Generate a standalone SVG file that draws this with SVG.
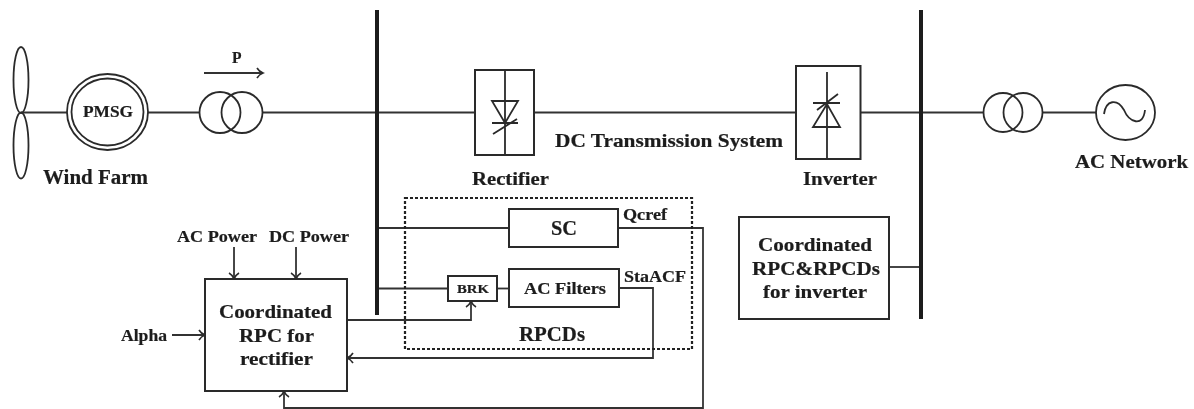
<svg xmlns="http://www.w3.org/2000/svg" width="1194" height="409" viewBox="0 0 1194 409">
<style>
.s{fill:none;stroke:#2b2b2b;stroke-width:1.8}
.w{fill:#fff;stroke:#2b2b2b;stroke-width:2}
.bus{fill:none;stroke:#1a1a1a;stroke-width:4}
.c{fill:none;stroke:#333;stroke-width:1.8}
.a{marker-end:url(#arr)}
text{font-family:"Liberation Serif","Times New Roman",serif;font-weight:700;fill:#1c1c1c;stroke:#1c1c1c;stroke-width:.2}
.t20{font-size:20px}.t19{font-size:19px}.t18{font-size:18.500px}.t16{font-size:16px}.t13{font-size:13.500px}
</style>
<defs>
<marker id="arr" markerUnits="userSpaceOnUse" markerWidth="12" markerHeight="12" refX="10" refY="6" orient="auto">
<path d="M4 1 Q6 4.5 10 6 Q6 7.5 4 11" fill="none" stroke="#2b2b2b" stroke-width="1.6"/>
</marker>
<filter id="soft" x="-2%" y="-2%" width="104%" height="104%"><feGaussianBlur stdDeviation="0.35"/></filter>
</defs>
<rect width="1194" height="409" fill="#fff"/>
<g filter="url(#soft)">
<g id="connectors">
<path class="c" d="M21 112.500H67"/>
<path class="c" d="M148 112.500H199"/>
<path class="c" d="M263 112.500H475"/>
<path class="c" d="M534 112.500H796"/>
<path class="c" d="M860 112.500H983"/>
<path class="c" d="M1042 112.500H1096"/>
<path class="c a" d="M204 73H263"/>
<path class="c" d="M377 228H509"/>
<path class="c" d="M377 288.500H448"/>
<path class="c" d="M497 288.500H509"/>
<path class="c" d="M889 267H921"/>
<path class="c a" d="M234 247V279"/>
<path class="c a" d="M296 247V279"/>
<path class="c a" d="M172 335H205"/>
<path class="c a" d="M347 320H471V301"/>
<path class="c a" d="M619 288H653V358H347"/>
<path class="c a" d="M618 228H703V408H284V391"/>
</g>
<g id="wind-turbine">
<ellipse class="s" cx="21" cy="80" rx="7.500" ry="33"/>
<ellipse class="s" cx="21" cy="145.500" rx="7.500" ry="33"/>
</g>
<g id="pmsg">
<ellipse class="s" cx="107.500" cy="112" rx="40.500" ry="38"/>
<ellipse class="s" cx="107.500" cy="112" rx="36" ry="33.500"/>
<text class="t16" x="83" y="117" textLength="50" lengthAdjust="spacingAndGlyphs">PMSG</text>
</g>
<g id="wind-farm-label"><text class="t20" x="43" y="184" textLength="105" lengthAdjust="spacingAndGlyphs">Wind Farm</text></g>
<g id="power-label"><text class="t16" x="232" y="63" textLength="9.500" lengthAdjust="spacingAndGlyphs">P</text></g>
<g id="transformer-1">
<circle class="s" cx="220" cy="112.500" r="20.500"/>
<circle class="s" cx="242" cy="112.500" r="20.500"/>
</g>
<g id="bus-1"><path class="bus" d="M377 10V315"/></g>
<g id="bus-2"><path class="bus" d="M921 10V319"/></g>
<g id="rectifier">
<rect class="w" x="475" y="70" width="59" height="85"/>
<path class="s" d="M505 70V155M492 101H518L505 123ZM492 123H518M493 134L517 119"/>
<text class="t18" x="472" y="185" textLength="77" lengthAdjust="spacingAndGlyphs">Rectifier</text>
</g>
<g id="dc-label"><text class="t18" x="555" y="147" textLength="228" lengthAdjust="spacingAndGlyphs">DC Transmission System</text></g>
<g id="inverter">
<rect class="w" x="796" y="66" width="64.500" height="93"/>
<path class="s" d="M827 72V159M813 127H840L827 104ZM813 103H840M817 110L838 94"/>
<text class="t18" x="803" y="185" textLength="74" lengthAdjust="spacingAndGlyphs">Inverter</text>
</g>
<g id="transformer-2">
<circle class="s" cx="1003" cy="112.500" r="19.500"/>
<circle class="s" cx="1023" cy="112.500" r="19.500"/>
</g>
<g id="ac-network">
<ellipse class="s" cx="1125.500" cy="112.500" rx="29.500" ry="27.500"/>
<path class="s" d="M1104 114C1106 100 1117 98 1124 110C1129 122 1143 128 1145 110"/>
<text class="t18" x="1075" y="168" textLength="113" lengthAdjust="spacingAndGlyphs">AC Network</text>
</g>
<g id="rpcds">
<rect x="405" y="198" width="287" height="151" fill="none" stroke="#222" stroke-width="2.200" stroke-dasharray="3 2"/>
<text class="t20" x="519" y="341" textLength="66" lengthAdjust="spacingAndGlyphs">RPCDs</text>
</g>
<g id="sc">
<rect class="w" x="509" y="209" width="109" height="38"/>
<text class="t20" x="551" y="235" textLength="26" lengthAdjust="spacingAndGlyphs">SC</text>
<text class="t16" x="623" y="220" textLength="44" lengthAdjust="spacingAndGlyphs">Qcref</text>
</g>
<g id="brk">
<rect class="w" x="448" y="276" width="49" height="25"/>
<text class="t13" x="457" y="293" textLength="32" lengthAdjust="spacingAndGlyphs">BRK</text>
</g>
<g id="ac-filters">
<rect class="w" x="509" y="269" width="110" height="38"/>
<text class="t16" x="524" y="294" textLength="82" lengthAdjust="spacingAndGlyphs">AC Filters</text>
<text class="t16" x="624" y="282" textLength="62" lengthAdjust="spacingAndGlyphs">StaACF</text>
</g>
<g id="rpc-rectifier">
<rect class="w" x="205" y="279" width="142" height="112"/>
<text class="t19" x="219" y="318" textLength="113" lengthAdjust="spacingAndGlyphs">Coordinated</text>
<text class="t19" x="239" y="342" textLength="75" lengthAdjust="spacingAndGlyphs">RPC for</text>
<text class="t19" x="240" y="365" textLength="73" lengthAdjust="spacingAndGlyphs">rectifier</text>
</g>
<g id="inputs">
<text class="t16" x="177" y="242" textLength="80" lengthAdjust="spacingAndGlyphs">AC Power</text>
<text class="t16" x="269" y="242" textLength="80" lengthAdjust="spacingAndGlyphs">DC Power</text>
<text class="t16" x="121" y="341" textLength="46" lengthAdjust="spacingAndGlyphs">Alpha</text>
</g>
<g id="rpc-inverter">
<rect class="w" x="739" y="217" width="150" height="102"/>
<text class="t19" x="758" y="251" textLength="114" lengthAdjust="spacingAndGlyphs">Coordinated</text>
<text class="t19" x="752" y="275" textLength="128" lengthAdjust="spacingAndGlyphs">RPC&amp;RPCDs</text>
<text class="t19" x="763" y="298" textLength="104" lengthAdjust="spacingAndGlyphs">for inverter</text>
</g>
</g>
</svg>
